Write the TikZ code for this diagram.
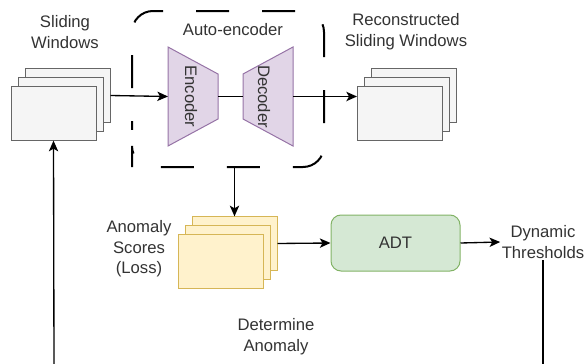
\documentclass[tikz,border=0pt]{standalone}
\usepackage{fontspec}
\setmainfont{Liberation Sans}
\usetikzlibrary{arrows.meta,positioning,calc}
\definecolor{winfill}{HTML}{F5F5F5}
\definecolor{winline}{HTML}{666666}
\definecolor{aefill}{HTML}{E1D5E7}
\definecolor{aeline}{HTML}{9673A6}
\definecolor{scfill}{HTML}{FFF2CC}
\definecolor{scline}{HTML}{D6B656}
\definecolor{adtfill}{HTML}{D5E8D4}
\definecolor{adtline}{HTML}{82B366}
\definecolor{txt}{HTML}{333333}

\tikzset{
  lbl/.style={font=\fontsize{12.5}{15.5}\selectfont,text=txt,align=center,inner sep=1pt},
  win/.style={draw=winline,fill=winfill,line width=0.75pt,minimum width=63.75pt,minimum height=40pt,inner sep=0pt},
  score/.style={win,draw=scline,fill=scfill},
  flow/.style={line width=1pt,-{Stealth[length=8pt,width=7pt,inset=2pt]}},
  link/.style={line width=1pt}
}

\begin{document}
\begin{tikzpicture}[x=0.75pt,y=-0.75pt]
  \useasboundingbox (0,0) rectangle (586,364);

  % Sliding windows
  \node[lbl] (swlbl) at (65,32) {Sliding\\Windows};
  \node[win] (swb) at (67.5,95.5) {};
  \node[win] (swm) at (60.5,104.5) {};
  \node[win] (swf) at (53.5,113.5) {};

  % Auto-encoder
  \node[minimum width=144pt,minimum height=117pt,inner sep=0pt] (ae) at (228,89) {};
  \draw[line width=1.5pt,dash pattern=on 24.75pt off 24.75pt,dash phase=21.75pt,rounded corners=15.75pt]
    (132,146) -- (132,11) -- (324,11) -- (324,167) -- (132,167) -- cycle;
  \node[lbl] (aelbl) at (233,30) {Auto-encoder};
  \filldraw[fill=aefill,draw=aeline,line width=0.75pt] (168,47) -- (218,74) -- (218,119) -- (168,146) -- cycle;
  \filldraw[fill=aefill,draw=aeline,line width=0.75pt] (293,47) -- (243,74) -- (243,119) -- (293,146) -- cycle;
  \node[lbl,rotate=-90] (enc) at (191,96.5) {Encoder};
  \node[lbl,rotate=-90] (dec) at (264,96.5) {Decoder};
  \coordinate (encin) at (168,96.5);
  \coordinate (encout) at (218,96.5);
  \coordinate (decin) at (243,96.5);
  \coordinate (decout) at (293,96.5);

  % Reconstructed windows
  \node[lbl] (rswlbl) at (406,32) {Reconstructed\\Sliding Windows};
  \node[win] (rswb) at (414,95.5) {};
  \node[win] (rswm) at (407,104.5) {};
  \node[win] (rswf) at (400,113.5) {};

  % Anomaly scores
  \node[lbl] (sclbl) at (139,249) {Anomaly\\Scores\\(Loss)};
  \node[score] (scb) at (234.5,243.5) {};
  \node[score] (scm) at (227.5,252.5) {};
  \node[score] (scf) at (220.5,261.5) {};

  % ADT
  \node[draw=adtline,fill=adtfill,line width=0.75pt,rounded corners=7.5pt,minimum width=96.75pt,
        minimum height=42pt,lbl] (adt) at (395.5,243) {ADT};
  \node[lbl] (dt) at (543,242) {Dynamic\\Thresholds};
  \node[lbl] (det) at (276,337) {Determine\\Anomaly};
  \coordinate (botL) at (54,364);
  \coordinate (botR) at (543,364);

  % Connectors
  \draw[flow] (swb.east) -- (encin);
  \draw[link] (encout) -- (decin);
  \draw[flow] (decout) -- (decout -| rswf.west);
  \draw[flow] (scb.north |- ae.south) -- (scb.north);
  \draw[flow] (scb.east) -- (adt.west);
  \draw[flow] (adt.east) -- (dt.west);
  \draw[link] (dt.south) -- (botR);
  \draw[flow] (botL) -- (swf.south);
\end{tikzpicture}
\end{document}
